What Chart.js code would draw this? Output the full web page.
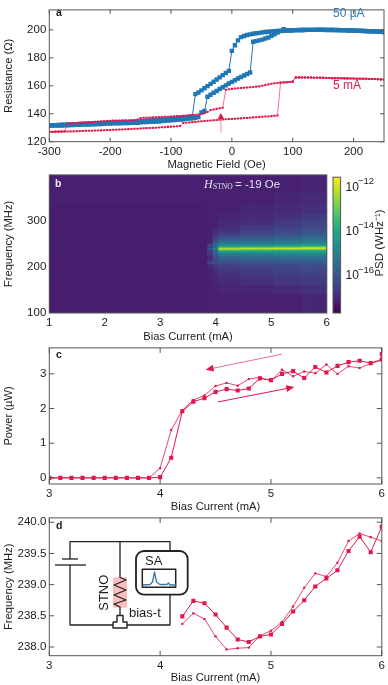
<!DOCTYPE html>
<html><head><meta charset="utf-8">
<script src="https://cdn.jsdelivr.net/npm/chart.js@4"></script>
<style>html,body{margin:0;padding:0;background:#fff;width:388px;height:685px;overflow:hidden}
canvas{position:absolute;filter:blur(0.35px)}</style></head><body>
<canvas id="ca" style="left:0px;top:0px" width="388" height="172"></canvas>
<canvas id="cb" style="left:0px;top:165px" width="333" height="179"></canvas>
<canvas id="cc" style="left:325px;top:165px" width="63" height="176"></canvas>
<canvas id="cp" style="left:0px;top:338px" width="388" height="176"></canvas>
<canvas id="cd" style="left:0px;top:508px" width="388" height="177"></canvas>
<script>
const SANS='"Liberation Sans",Arial,sans-serif', SERIF='"Liberation Serif",serif';
const INK='#1c1c1c', FRAME='#555', RED='#e0184c', BLUE='#1f77b4';

// Panel a
const fieldOe=[-300,-295,-290,-285,-280,-275,-270,-265,-260,-255,-250,-245,-240,-235,-230,-225,-220,-215,-210,-205,-200,-195,-190,-185,-180,-175,-170,-165,-160,-155,-150,-145,-140,-135,-130,-125,-120,-115,-110,-105,-100,-95,-90,-85,-80,-75,-70,-65,-60,-55,-50,-45,-40,-35,-30,-25,-20,-15,-10,-5,0,5,10,15,20,25,30,35,40,45,50,55,60,65,70,75,80,85,90,95,100,105,110,115,120,125,130,135,140,145,150,155,160,165,170,175,180,185,190,195,200,205,210,215,220,225,230,235,240,245,250];
const blueSweepUp=[131.4,131.5,131.5,131.6,131.6,131.7,131.8,131.9,131.9,132,
132.1,132.2,132.3,132.3,132.4,132.5,132.6,132.7,132.8,132.9,
133,133.1,133.2,133.2,133.3,133.4,133.4,133.5,133.5,133.6,
133.9,134,134.1,134.2,134.3,134.4,134.5,134.7,134.9,135.1,
135.3,135.5,135.7,135.9,136.1,136.3,136.5,136.8,137.1,137.6,
141,142,152.2,153.6,155,156.3,157.7,159,160.3,161.6,
162.8,164,165.2,166.3,167.4,168.4,169.5,191.5,192,192.5,
193,193.8,194.6,195.8,196.9,198,199.2,200.5,199.6,199.6,
199.7,199.8,199.8,199.9,199.9,200,200,200,200,200,
200,199.9,199.9,199.9,199.8,199.8,199.7,199.7,199.6,199.5,
199.5,199.4,199.3,199.2,199.1,199,198.9,198.8,198.7,198.6,198.4];
const blueSweepDown=[131.7,131.8,131.9,132,132.1,132.2,132.3,132.4,132.5,132.6,
132.7,132.8,132.9,133,133.1,133.2,133.2,133.3,133.4,133.5,
133.5,133.6,133.6,133.7,133.8,133.9,133.9,134,134.1,134.2,
134.7,134.9,135,135.2,135.3,135.5,135.6,135.8,136,136.2,
136.5,136.7,136.9,137,137.2,137.4,137.7,138.1,154,155.2,
156.7,158.2,159.8,161.4,162.9,164.5,166,167.6,169.2,170.7,
185,189,192.5,194.8,195.6,196.3,196.8,197.2,197.6,197.9,
198.2,198.5,198.7,198.9,199,199.2,199.3,199.4,199.5,199.6,
199.7,199.8,199.9,199.9,200,200,200,200,200.1,200.1,
200.1,200,200,200,199.9,199.9,199.8,199.8,199.7,199.6,
199.6,199.5,199.4,199.3,199.2,199.1,199,198.9,198.8,198.7,198.5];
const redSweepUp=[127,127,127.1,127.2,127.2,127.3,127.3,127.4,127.4,127.5,
127.6,127.7,127.8,127.8,127.9,128,128,128.1,128.2,128.3,
128.4,128.5,128.6,128.7,128.8,128.9,129,129.1,129.2,129.3,
129.5,129.6,129.7,129.8,129.9,130,130.1,130.3,130.4,130.6,
130.8,130.9,131,131.2,133.4,133.6,133.8,134,134.2,134.4,
134.6,134.8,135,135.2,135.4,135.5,135.7,135.9,136,136.2,
136.3,136.4,136.6,136.7,136.9,137,137.2,137.4,137.5,137.7,
137.8,138,138.1,138.3,138.5,138.7,162.3,162.5,162.6,162.7,
163,166,166,166,165.9,165.9,165.9,165.8,165.8,165.7,
165.7,165.6,165.6,165.5,165.5,165.4,165.4,165.3,165.3,165.2,
165.2,165.1,165.1,165,165,164.9,164.8,164.8,164.7,164.6,164.5];
const redSweepDown=[127.1,127.1,127.2,127.2,127.3,127.4,133,133.1,133.2,133.3,
133.5,133.6,133.7,133.8,134,134.2,134.4,134.6,134.7,134.8,
135,135.1,135.2,135.2,135.3,135.3,135.4,135.5,135.5,135.9,
137,137.1,137.2,137.3,137.4,137.5,137.6,137.7,137.8,137.9,
138,138.2,138.3,138.4,138.6,138.8,138.9,139.1,139.3,139.4,
139.8,140.4,141.3,142.6,143,143.5,144,144.3,157.2,157.5,
157.8,158,158.2,158.4,158.6,158.8,159,159.2,159.4,159.6,
160,160.5,161,161.4,161.8,162,162.2,162.4,162.6,162.7,
163,166,166,166,165.9,165.9,165.9,165.8,165.8,165.7,
165.7,165.6,165.6,165.5,165.5,165.4,165.4,165.3,165.3,165.2,
165.2,165.1,165.1,165,165,164.9,164.8,164.8,164.7,164.6,164.5];
const fieldTicks=[-300,-200,-100,0,100,200];
const resistanceTicks=[120,140,160,180,200];

// Panel b
const heatCurrents=[1,1.1,1.2,1.3,1.4,1.5,1.6,1.7,1.8,1.9,2,2.1,2.2,2.3,2.4,2.5,2.6,2.7,2.8,2.9,3,3.1,3.2,3.3,3.4,3.5,3.6,3.7,3.8,3.9,4,4.1,4.2,4.3,4.4,4.5,4.6,4.7,4.8,4.9,5,5.1,5.2,5.3,5.4,5.5,5.6,5.7,5.8,5.9,6];
const heatProfileOfColumn=[0,0,0,0,0,0,0,0,0,0,0,0,0,0,0,0,0,0,0,0,0,0,0,0,0,0,0,0,0,1,2,3,3,3,3,4,4,4,4,4,4,5,5,5,5,5,6,6,6,6,6];
const freqEdges=[100,140,160,175,185,195,205,212,218,223,227,230,233,235,237,241,243,245,248,252,257,263,270,278,288,300,315,335,360,400];
const logPsdProfiles=[
[-17.17,-17.17,-17.17,-17.17,-17.17,-17.17,-17.17,-17.17,-17.17,-17.17,-17.17,-17.17,-17.17,-17.17,-17.17,-17.17,-17.17,-17.17,-17.17,-17.17,-17.17,-17.17,-17.17,-17.17,-17.17,-17.17,-17.17,-17.12,-17.12],
[-17.12,-17.12,-17.12,-17.12,-17.12,-17.02,-16.42,-16.92,-17.02,-16.72,-16.42,-16.92,-16.12,-16.62,-16.02,-16.82,-16.32,-16.22,-16.92,-17.02,-17.12,-17.12,-17.12,-17.12,-17.12,-17.12,-17.12,-17.12,-17.12],
[-17.12,-17.12,-17.02,-17.02,-16.92,-16.72,-16.32,-16.42,-16.12,-15.92,-15.72,-15.62,-15.52,-15.32,-15.02,-15.42,-15.62,-15.72,-15.82,-16.12,-16.42,-16.62,-16.82,-17.02,-17.12,-17.12,-17.12,-17.12,-17.12],
[-17.12,-17.02,-16.92,-16.82,-16.72,-16.52,-16.22,-15.92,-15.62,-15.22,-14.92,-14.52,-14.02,-12.92,-12.32,-13.62,-14.12,-14.62,-15.12,-15.52,-15.92,-16.32,-16.62,-16.82,-16.92,-17.02,-17.12,-17.12,-17.12],
[-17.12,-17.02,-16.82,-16.72,-16.62,-16.42,-16.12,-15.82,-15.52,-15.12,-14.82,-14.42,-14.02,-13.42,-12.12,-13.42,-14.02,-14.52,-15.02,-15.42,-15.72,-16.12,-16.42,-16.62,-16.82,-16.92,-17.02,-17.12,-17.12],
[-17.12,-16.92,-16.72,-16.62,-16.52,-16.32,-16.02,-15.72,-15.42,-15.02,-14.72,-14.42,-14.02,-13.52,-12.02,-13.12,-13.82,-14.42,-14.92,-15.32,-15.62,-15.92,-16.22,-16.42,-16.62,-16.82,-16.92,-17.02,-17.12],
[-17.02,-16.82,-16.62,-16.52,-16.42,-16.22,-15.92,-15.62,-15.32,-14.92,-14.62,-14.32,-14.02,-13.62,-12.02,-12.62,-13.62,-14.22,-14.72,-15.12,-15.42,-15.72,-16.02,-16.22,-16.42,-16.62,-16.82,-16.92,-17.07]];
const freqTicks=[100,200,300];
const currentTicksLong=[1,2,3,4,5,6];
const colorbarLevels=[-17.7,-17.5,-17.3,-17.1,-16.9,-16.7,-16.5,-16.3,-16.1,-15.9,-15.7,-15.5,-15.3,-15.1,-14.9,-14.7,-14.5,-14.3,-14.1,-13.9,-13.7,-13.5,-13.3,-13.1,-12.9,-12.7,-12.5,-12.3,-12.1,-11.9,-11.7,-11.5];
const colorbarTicks=[-16,-14,-12];
const viridisStops=['#440154','#482475','#414487','#355f8d','#2a788e','#21908d','#22a884','#42be71','#7ad151','#bddf26','#fde725'];

// Panel c
const powerCurrent=[3,3.1,3.2,3.3,3.4,3.5,3.6,3.7,3.8,3.9,4,4.1,4.2,4.3,4.4,4.5,4.6,4.7,4.8,4.9,5,5.1,5.2,5.3,5.4,5.5,5.6,5.7,5.8,5.9,6,6];
const powerSweepUp=[0,0,0,0,0,0,0,0,0,0,0.02,0.58,1.92,2.2,2.3,2.48,2.56,2.52,2.58,2.87,2.82,3,3.08,2.88,3.2,3.04,3.23,3.34,3.38,3.31,3.42,3.57];
const powerSweepDown=[0,0,0,0,0,0,0,0,0,0,0.28,1.38,1.95,2.25,2.38,2.65,2.74,2.66,2.85,2.9,2.8,3.12,2.93,3.07,3.02,3.27,3,3.22,3.17,3.3,3.4,3.4];
const powerTicks=[0,1,2,3];
const currentTicks=[3,4,5,6];

// Panel d
const freqCurrent=[4.2,4.3,4.4,4.5,4.6,4.7,4.8,4.9,5,5.1,5.2,5.3,5.4,5.5,5.6,5.7,5.8,5.9,6];
const freqSweepUp=[238.49,238.74,238.7,238.52,238.31,238.12,238.08,238.17,238.2,238.37,238.57,238.75,238.97,239.1,239.23,239.54,239.77,239.52,239.93];
const freqSweepDown=[238.37,238.54,238.45,238.17,237.96,237.98,237.99,238.18,238.26,238.4,238.65,238.95,239.18,239.13,239.35,239.7,239.82,239.76,239.7];
const frequencyTicks=[238,238.5,239,239.5,240];

const pts=(xs,ys)=>xs.map((x,i)=>({x,y:ys[i]}));
function hexRgb(h){return [1,3,5].map(i=>parseInt(h.substr(i,2),16));}
function viridis(v){ // colour only: log PSD to colormap
  let t=Math.max(0,Math.min(1,(v+17.67)/6.14))*(viridisStops.length-1);
  const i=Math.min(Math.floor(t),viridisStops.length-2), f=t-i;
  const a=hexRgb(viridisStops[i]), b=hexRgb(viridisStops[i+1]);
  return 'rgb('+a.map((c,k)=>Math.round(c+(b[k]-c)*f)).join(',')+')';
}
function axis(min,max,ticks,title,extra){
  return Object.assign({type:'linear',min,max,
    grid:{display:false,drawTicks:false,tickLength:0},border:{display:false},
    afterBuildTicks:s=>{s.ticks=ticks.map(v=>({value:v}));},
    ticks:{autoSkip:false,maxRotation:0,color:INK,font:{family:SANS,size:11.5},padding:3},
    title:title?{display:true,text:title,color:INK,font:{family:SANS,size:11.2},padding:{top:2,bottom:0}}:{display:false}
  },extra||{});
}
function framePlugin(tickLen){return {id:'frame',afterDatasetsDraw(ch){
  const c=ch.ctx,a=ch.chartArea;c.save();c.strokeStyle=FRAME;c.lineWidth=1;
  c.strokeRect(a.left,a.top,a.right-a.left,a.bottom-a.top);
  if(tickLen){c.beginPath();
    ch.scales.x.ticks.forEach(t=>{const p=ch.scales.x.getPixelForValue(t.value);
      c.moveTo(p,a.bottom);c.lineTo(p,a.bottom-tickLen);c.moveTo(p,a.top);c.lineTo(p,a.top+tickLen);});
    ch.scales.y.ticks.forEach(t=>{const p=ch.scales.y.getPixelForValue(t.value);
      c.moveTo(a.left,p);c.lineTo(a.left+tickLen,p);c.moveTo(a.right,p);c.lineTo(a.right-tickLen,p);});
    c.stroke();}
  c.restore();}};}
function labelPlugin(items){return {id:'labels',afterDraw(ch){
  const c=ch.ctx;c.save();c.textBaseline='middle';
  items.forEach(t=>{c.font=t.font;c.fillStyle=t.color||INK;c.textAlign=t.align||'left';c.fillText(t.text,t.x,t.y);});
  c.restore();}};}
function arrowPlugin(list){return {id:'arrows',afterDatasetsDraw(ch){
  const c=ch.ctx,X=ch.scales.x,Y=ch.scales.y;c.save();
  list.forEach(A=>{const x0=X.getPixelForValue(A.x[0]),y0=Y.getPixelForValue(A.y[0]),x1=X.getPixelForValue(A.x[1]),y1=Y.getPixelForValue(A.y[1]);
    const ang=Math.atan2(y1-y0,x1-x0),L=A.head,W=A.width;
    c.strokeStyle=A.stem;c.lineWidth=1;c.beginPath();c.moveTo(x0,y0);c.lineTo(x1-Math.cos(ang)*L*.6,y1-Math.sin(ang)*L*.6);c.stroke();
    c.fillStyle=RED;c.beginPath();c.moveTo(x1,y1);
    c.lineTo(x1-L*Math.cos(ang)+W*Math.sin(ang),y1-L*Math.sin(ang)-W*Math.cos(ang));
    c.lineTo(x1-L*Math.cos(ang)-W*Math.sin(ang),y1-L*Math.sin(ang)+W*Math.cos(ang));c.closePath();c.fill();});
  c.restore();}};}
function lineSet(data,color,lw,radius,style,order){
  return {data,borderColor:color,backgroundColor:color,borderWidth:lw,pointRadius:radius,pointStyle:style,pointBorderWidth:0,pointHoverRadius:radius,tension:0,fill:false,order};
}
const base={responsive:false,animation:false,events:[],parsing:true,plugins:{legend:{display:false},tooltip:{enabled:false},title:{display:false}}};
Chart.defaults.font.family=SANS;

const fit=(w,h)=>({y:{afterFit:s=>{s.width=w;}},x:{afterFit:s=>{s.height=h;}}});

// a
new Chart(document.getElementById('ca'),{type:'line',
  data:{datasets:[
    lineSet(pts(fieldOe,redSweepUp),RED,0.6,1.45,'rect',1),
    lineSet(pts(fieldOe,redSweepDown),RED,0.6,1.45,'rect',2),
    lineSet(pts(fieldOe,blueSweepUp),BLUE,1,3.1,'rect',3),
    lineSet(pts(fieldOe,blueSweepDown),BLUE,1,3.1,'rect',4)]},
  options:Object.assign({},base,{
    layout:{padding:{top:3,right:4,left:0,bottom:0}},
    scales:{
      x:axis(-300,250,fieldTicks,'Magnetic Field (Oe)',fit(0,30.3).x),
      y:axis(120,214.3,resistanceTicks,'Resistance (Ω)',fit(49.3,0).y)}}),
  plugins:[framePlugin(4),
    arrowPlugin([{x:[-18,-18],y:[126.5,140.6],stem:'#f08ca4',head:6,width:3.2}]),
    labelPlugin([
      {text:'a',x:56,y:13,font:'bold 10.5px '+SANS},
      {text:'50 µA',x:333,y:14,color:'#2a7ab5',font:'12px '+SANS},
      {text:'5 mA',x:333,y:86,color:RED,font:'12px '+SANS}])]});

// b
const heatDatasets=freqEdges.slice(0,-1).map((lo,r)=>({
  data:heatCurrents.map(x=>({x,y:[lo,freqEdges[r+1]]})),
  backgroundColor:heatProfileOfColumn.map(p=>viridis(logPsdProfiles[p][r])),
  borderWidth:0,barPercentage:1,categoryPercentage:1,grouped:false}));
new Chart(document.getElementById('cb'),{type:'bar',
  data:{datasets:heatDatasets},
  options:Object.assign({},base,{
    layout:{padding:{top:8.3,right:3,left:0,bottom:0}},
    scales:{
      x:axis(1,6,currentTicksLong,'Bias Current (mA)',Object.assign({offset:false},fit(0,31).x)),
      y:axis(100,400,freqTicks,'Frequency (MHz)',fit(49.3,0).y)}}),
  plugins:[{id:'bg',beforeDatasetsDraw(ch){const a=ch.chartArea;ch.ctx.fillStyle=viridis(logPsdProfiles[0][0]);ch.ctx.fillRect(a.left,a.top,a.right-a.left,a.bottom-a.top);}},
    framePlugin(0),
    labelPlugin([
      {text:'b',x:55,y:184-165,color:'#eee',font:'bold 10.5px '+SANS},
      {text:'H',x:204,y:185-165,color:'#e4e0ee',font:'italic 12px '+SERIF},
      {text:'STNO',x:213,y:187.5-165,color:'#e4e0ee',font:'7.5px '+SERIF},
      {text:'= -19 Oe',x:235,y:185-165,color:'#e4e0ee',font:'11.5px '+SANS}])]});

// colorbar
const barDatasets=colorbarLevels.slice(0,-1).map((lo,i)=>({
  data:[{x:0,y:[lo,colorbarLevels[i+1]]}],
  backgroundColor:viridis((lo+colorbarLevels[i+1])/2),borderWidth:0,barPercentage:1,categoryPercentage:1,barThickness:8,grouped:false}));
new Chart(document.getElementById('cc'),{type:'bar',
  data:{datasets:barDatasets},
  options:Object.assign({},base,{
    layout:{padding:{top:8.3,right:0,left:8,bottom:28}},
    scales:{
      x:{type:'linear',min:-1,max:1,display:false},
      y:axis(-17.67,-11.53,colorbarTicks,null,Object.assign({position:'right'},fit(47.4,0).y,{
        ticks:{autoSkip:false,color:INK,font:{family:SANS,size:12},padding:5,callback:()=> '10'}}))}}),
  plugins:[{id:'sup',afterDraw(ch){const c=ch.ctx,Y=ch.scales.y;c.save();c.fillStyle=INK;c.font='9.5px '+SANS;c.textBaseline='middle';
      colorbarTicks.forEach(v=>{c.fillText('−'+Math.abs(v),33,Y.getPixelForValue(v)-6);});
      c.translate(55,78);c.rotate(-Math.PI/2);c.textAlign='center';c.font='11.5px '+SANS;c.fillText('PSD (WHz⁻¹)',0,0);
      c.restore();}},framePlugin(0)]});

// c
new Chart(document.getElementById('cp'),{type:'line',
  data:{datasets:[
    lineSet(pts(powerCurrent,powerSweepUp),RED,1,2.9,'rect',1),
    lineSet(pts(powerCurrent,powerSweepDown),RED,0.8,1.2,'circle',2)]},
  options:Object.assign({},base,{
    layout:{padding:{top:6.3,right:4,left:0,bottom:0}},
    scales:{
      x:axis(3,6,currentTicks,'Bias Current (mA)',fit(0,30).x),
      y:axis(-0.177,3.75,powerTicks,'Power (µW)',fit(49.3,0).y)}}),
  plugins:[framePlugin(5),
    arrowPlugin([
      {x:[5.1,4.41],y:[3.57,3.12],stem:'#ee6e8c',head:8,width:3.5},
      {x:[4.52,5.21],y:[2.19,2.62],stem:RED,head:8,width:3.5}]),
    labelPlugin([{text:'c',x:56,y:355-338,font:'bold 10.5px '+SANS}])]});

// d
new Chart(document.getElementById('cd'),{type:'line',
  data:{datasets:[
    lineSet(pts(freqCurrent,freqSweepUp),RED,1,2.9,'rect',1),
    lineSet(pts(freqCurrent,freqSweepDown),RED,0.8,1.2,'circle',2)]},
  options:Object.assign({},base,{
    layout:{padding:{top:6.7,right:4,left:0,bottom:0}},
    scales:{
      x:axis(3,6,currentTicks,'Bias Current (mA)',fit(0,29.3).x),
      y:axis(237.86,240.07,frequencyTicks,'Frequency (MHz)',Object.assign({},fit(49.3,0).y,{
        ticks:{autoSkip:false,color:INK,font:{family:SANS,size:11.5},padding:3,callback:v=>v.toFixed(1)}}))}}),
  plugins:[framePlugin(5),
    {id:'circuit',afterDraw(ch){const c=ch.ctx;c.save();c.translate(0,-508);
      c.fillStyle='#f9bfc0';c.fillRect(113,577.3,14,30.4);
      c.strokeStyle='#222';c.lineWidth=1.3;c.lineJoin='round';
      const path=p=>{c.beginPath();p.forEach((q,i)=>i?c.lineTo(q[0],q[1]):c.moveTo(q[0],q[1]));c.stroke();};
      path([[70,559],[70,541.7],[170,541.7],[170,551]]);
      path([[70,565],[70,625],[113,625]]);
      path([[127,625],[170,625],[170,594.7]]);
      path([[120,541.7],[120,577.5],[126,580],[114,585],[126,590],[114,595],[126,600],[114,604],[120,607],[120,615]]);
      path([[62,559],[78,559]]);path([[55,565],[86,565]]);
      c.fillStyle='#fff';c.beginPath();c.roundRect(136,551,51.7,43.7,8);c.fill();c.lineWidth=1.8;c.stroke();
      c.lineWidth=1.5;c.strokeRect(142.3,569.3,33.4,18);
      c.strokeStyle='#3f74a6';c.lineWidth=1.3;
      path([[143,585],[150,584.5],[152.5,582],[154.5,572],[156.5,582],[160,584.5],[167,584.5],[168.5,583],[170,585],[176,585]]);
      c.strokeStyle='#222';c.lineWidth=1.4;
      path([[113,622],[117,622],[117,615.5],[123,615.5],[123,622],[127,622],[127,628],[113,628],[113,622]]);
      c.fillStyle=INK;c.font='13px '+SANS;c.textBaseline='middle';
      c.fillText('SA',145,561);c.fillText('bias-t',129,613);
      c.translate(104,592.7);c.rotate(-Math.PI/2);c.textAlign='center';c.fillText('STNO',0,0);
      c.restore();}},
    labelPlugin([{text:'d',x:56,y:526-508,font:'bold 10.5px '+SANS}])]});
</script>
</body></html>
